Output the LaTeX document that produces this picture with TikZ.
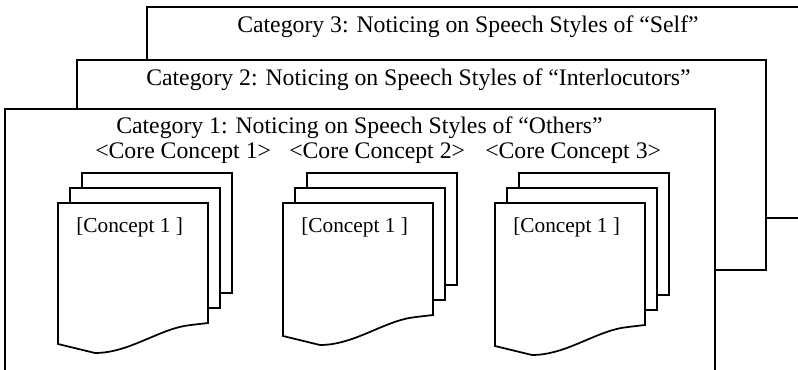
\documentclass[tikz,border=0pt]{standalone}
\usepackage{fontspec}
\setmainfont{Liberation Serif}
\tikzset{
  frame/.style={draw, line width=1.3pt, fill=white},
  page/.style={draw, line width=1.3pt, fill=white},
  label/.style={inner sep=0pt, anchor=base west, font=\fontsize{17.8}{21}\selectfont},
  pagelabel/.style={inner sep=0pt, anchor=base west, font=\fontsize{16}{19}\selectfont},
}
\begin{document}
\begin{tikzpicture}[x=0.75pt,y=-0.75pt]
\useasboundingbox (0,0) rectangle (798,370);
\clip (0,0) rectangle (798,370);
% categories, back to front
\draw[frame] (147,7) rectangle (812,218);
\node[label] (cat3) at (237,32.5) {Category 3: Noticing on Speech Styles of “Self”};
\draw[frame] (77,60) rectangle (766,270);
\node[label] (cat2) at (146,86) {Category 2: Noticing on Speech Styles of “Interlocutors”};
\draw[frame] (5,109) rectangle (715,385);
\node[label] (cat1) at (116,134) {Category 1: Noticing on Speech Styles of “Others”};
% core concepts
\foreach \i/\x in {1/95,2/289,3/485} {
  \node[label] (core\i) at (\x,159) {<Core Concept \i>};
}
% stacks of concept pages
\foreach \i/\L/\h in {1/58/120,2/283/112,3/495/122} {
  \draw[page] (\L+24,173) rectangle (\L+174,173+\h);
  \draw[page] (\L+12,188) rectangle (\L+162,188+\h);
  \draw[page] (\L,203) -- (\L+150,203) -- (\L+150,203+\h) -- (\L+133,205+\h)
    .. controls (\L+102,208+\h) and (\L+72,233+\h) .. (\L+37,233+\h) -- (\L,224+\h) -- cycle;
  \node[pagelabel] (concept\i) at (\L+18,232) {[Concept 1 ]};
}
\end{tikzpicture}
\end{document}
